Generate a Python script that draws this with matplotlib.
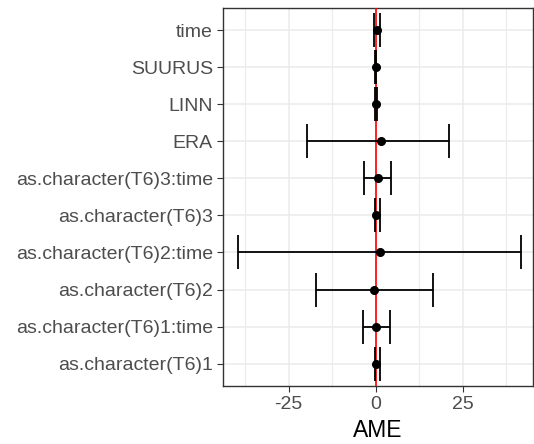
import matplotlib.pyplot as plt

# Average marginal effects with confidence bounds
terms = ['as.character(T6)1', 'as.character(T6)1:time', 'as.character(T6)2',
         'as.character(T6)2:time', 'as.character(T6)3', 'as.character(T6)3:time',
         'ERA', 'LINN', 'SUURUS', 'time']
ame = [0.1, 0.2, -0.5, 1.2, 0.2, 0.8, 1.4, 0.0, 0.0, 0.3]
lower = [-0.3, -3.7, -17.1, -39.5, -0.3, -3.2, -19.6, -0.1, -0.1, -0.5]
upper = [1.2, 4.0, 16.4, 41.8, 1.2, 4.3, 21.0, 0.3, 0.1, 1.2]

plt.rcParams['font.family'] = ['Liberation Sans', 'DejaVu Sans']
plt.rcParams['axes.unicode_minus'] = False

fig = plt.figure(figsize=(5.34, 4.44), dpi=100)
ax = fig.add_axes([0.418, 0.131, 0.580, 0.851])

ypos = list(range(len(terms)))
xerr = [[a - l for a, l in zip(ame, lower)], [u - a for a, u in zip(ame, upper)]]

ax.axvline(0, color='red', lw=1.2, zorder=3)
ax.errorbar(ame, ypos, xerr=xerr, fmt='o', color='black', ms=5.5,
            elinewidth=1.3, capsize=12, capthick=1.3, zorder=4)

ax.set_xlim(-43.8, 45.2)
ax.set_ylim(-0.6, len(terms) - 0.4)
ax.set_xticks([-25, 0, 25])
ax.set_xticks([-37.5, -12.5, 12.5, 37.5], minor=True)
ax.set_yticks(ypos)
ax.set_yticklabels(terms)

ax.grid(True, which='major', color='#EBEBEB', lw=1.1)
ax.grid(True, which='minor', axis='x', color='#EBEBEB', lw=0.8)
ax.set_axisbelow(True)
for s in ax.spines.values():
    s.set_color('#333333')
    s.set_linewidth(1.0)

ax.tick_params(axis='both', which='major', colors='#333333', labelcolor='#4D4D4D',
               labelsize=14, length=4)
ax.tick_params(axis='x', which='minor', length=0)
ax.set_xlabel('AME', fontsize=16.5, color='black', labelpad=4)

fig.savefig('out.png', dpi=100)
